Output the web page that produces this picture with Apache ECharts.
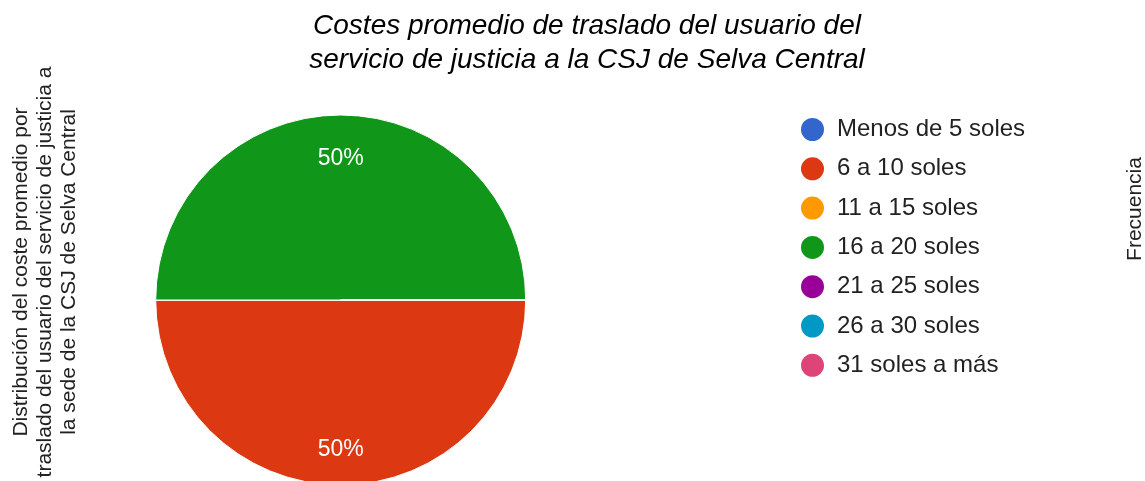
<!DOCTYPE html>
<html>
<head>
<meta charset="utf-8">
<script src="https://cdn.jsdelivr.net/npm/echarts@6/dist/echarts.min.js"></script>
<style>html,body{margin:0;padding:0;background:#fff}#c{width:1145px;height:481px}</style>
</head>
<body>
<div id="c"></div>
<script>
const titleText = 'Costes promedio de traslado del usuario del\nservicio de justicia a la CSJ de Selva Central';
const leftAxisTitle = 'Distribución del coste promedio por\ntraslado del usuario del servicio de justicia a\nla sede de la CSJ de Selva Central';
const rightAxisTitle = 'Frecuencia';
const categories = ['Menos de 5 soles', '6 a 10 soles', '11 a 15 soles', '16 a 20 soles', '21 a 25 soles', '26 a 30 soles', '31 soles a más'];
const values = [0, 1, 0, 1, 0, 0, 0];
const colors = ['#3366cc', '#dc3912', '#ff9900', '#109618', '#990099', '#0099c6', '#dd4477'];

const FONT = 'Arial, "Liberation Sans", sans-serif';
const chart = echarts.init(document.getElementById('c'), null, {renderer: 'canvas'});
const pieData = categories.map((c, i) => ({name: c, value: values[i]}));
const labelFmt = p => p.value ? Math.round(p.percent) + '%' : '';

chart.setOption({
  animation: false,
  color: colors,
  title: {
    text: titleText,
    left: 587, top: 9, textAlign: 'center', padding: 0,
    textStyle: {fontFamily: FONT, fontSize: 28, fontStyle: 'italic', fontWeight: 'normal', color: '#000', lineHeight: 34}
  },
  legend: {
    orient: 'vertical',
    left: 799, top: 116,
    icon: 'circle',
    itemWidth: 25, itemHeight: 25, itemGap: 12.3,
    padding: 0,
    data: categories.map((c, i) => ({name: c, itemStyle: {color: colors[i]}})),
    textStyle: {fontFamily: FONT, fontSize: 24, color: '#222', padding: [0, 0, 0, 7]}
  },
  graphic: [
    {type: 'text', x: 45, y: 272, rotation: Math.PI / 2,
     style: {text: leftAxisTitle, fontFamily: FONT, fontSize: 21, lineHeight: 24, fill: '#222', align: 'center', verticalAlign: 'middle'}},
    {type: 'text', x: 1135, y: 209, rotation: Math.PI / 2,
     style: {text: rightAxisTitle, fontFamily: FONT, fontSize: 21, lineHeight: 24, fill: '#222', align: 'center', verticalAlign: 'middle'}}
  ],
  series: [
    {
      type: 'pie', center: [340.7, 300], radius: [0, 185], startAngle: 0, clockwise: true,
      data: pieData, silent: true,
      itemStyle: {borderColor: '#fff', borderWidth: 1},
      label: {show: false}, labelLine: {show: false}
    },
    {
      type: 'pie', center: [340.7, 300], radius: [100, 185], startAngle: 0, clockwise: true,
      data: pieData, silent: true, minShowLabelAngle: 1,
      itemStyle: {color: 'rgba(0,0,0,0)'},
      label: {show: true, position: 'inside', formatter: labelFmt, color: '#fff', fontFamily: FONT, fontSize: 23, offset: [0, 4]},
      labelLine: {show: false}
    }
  ]
});
</script>
</body>
</html>
